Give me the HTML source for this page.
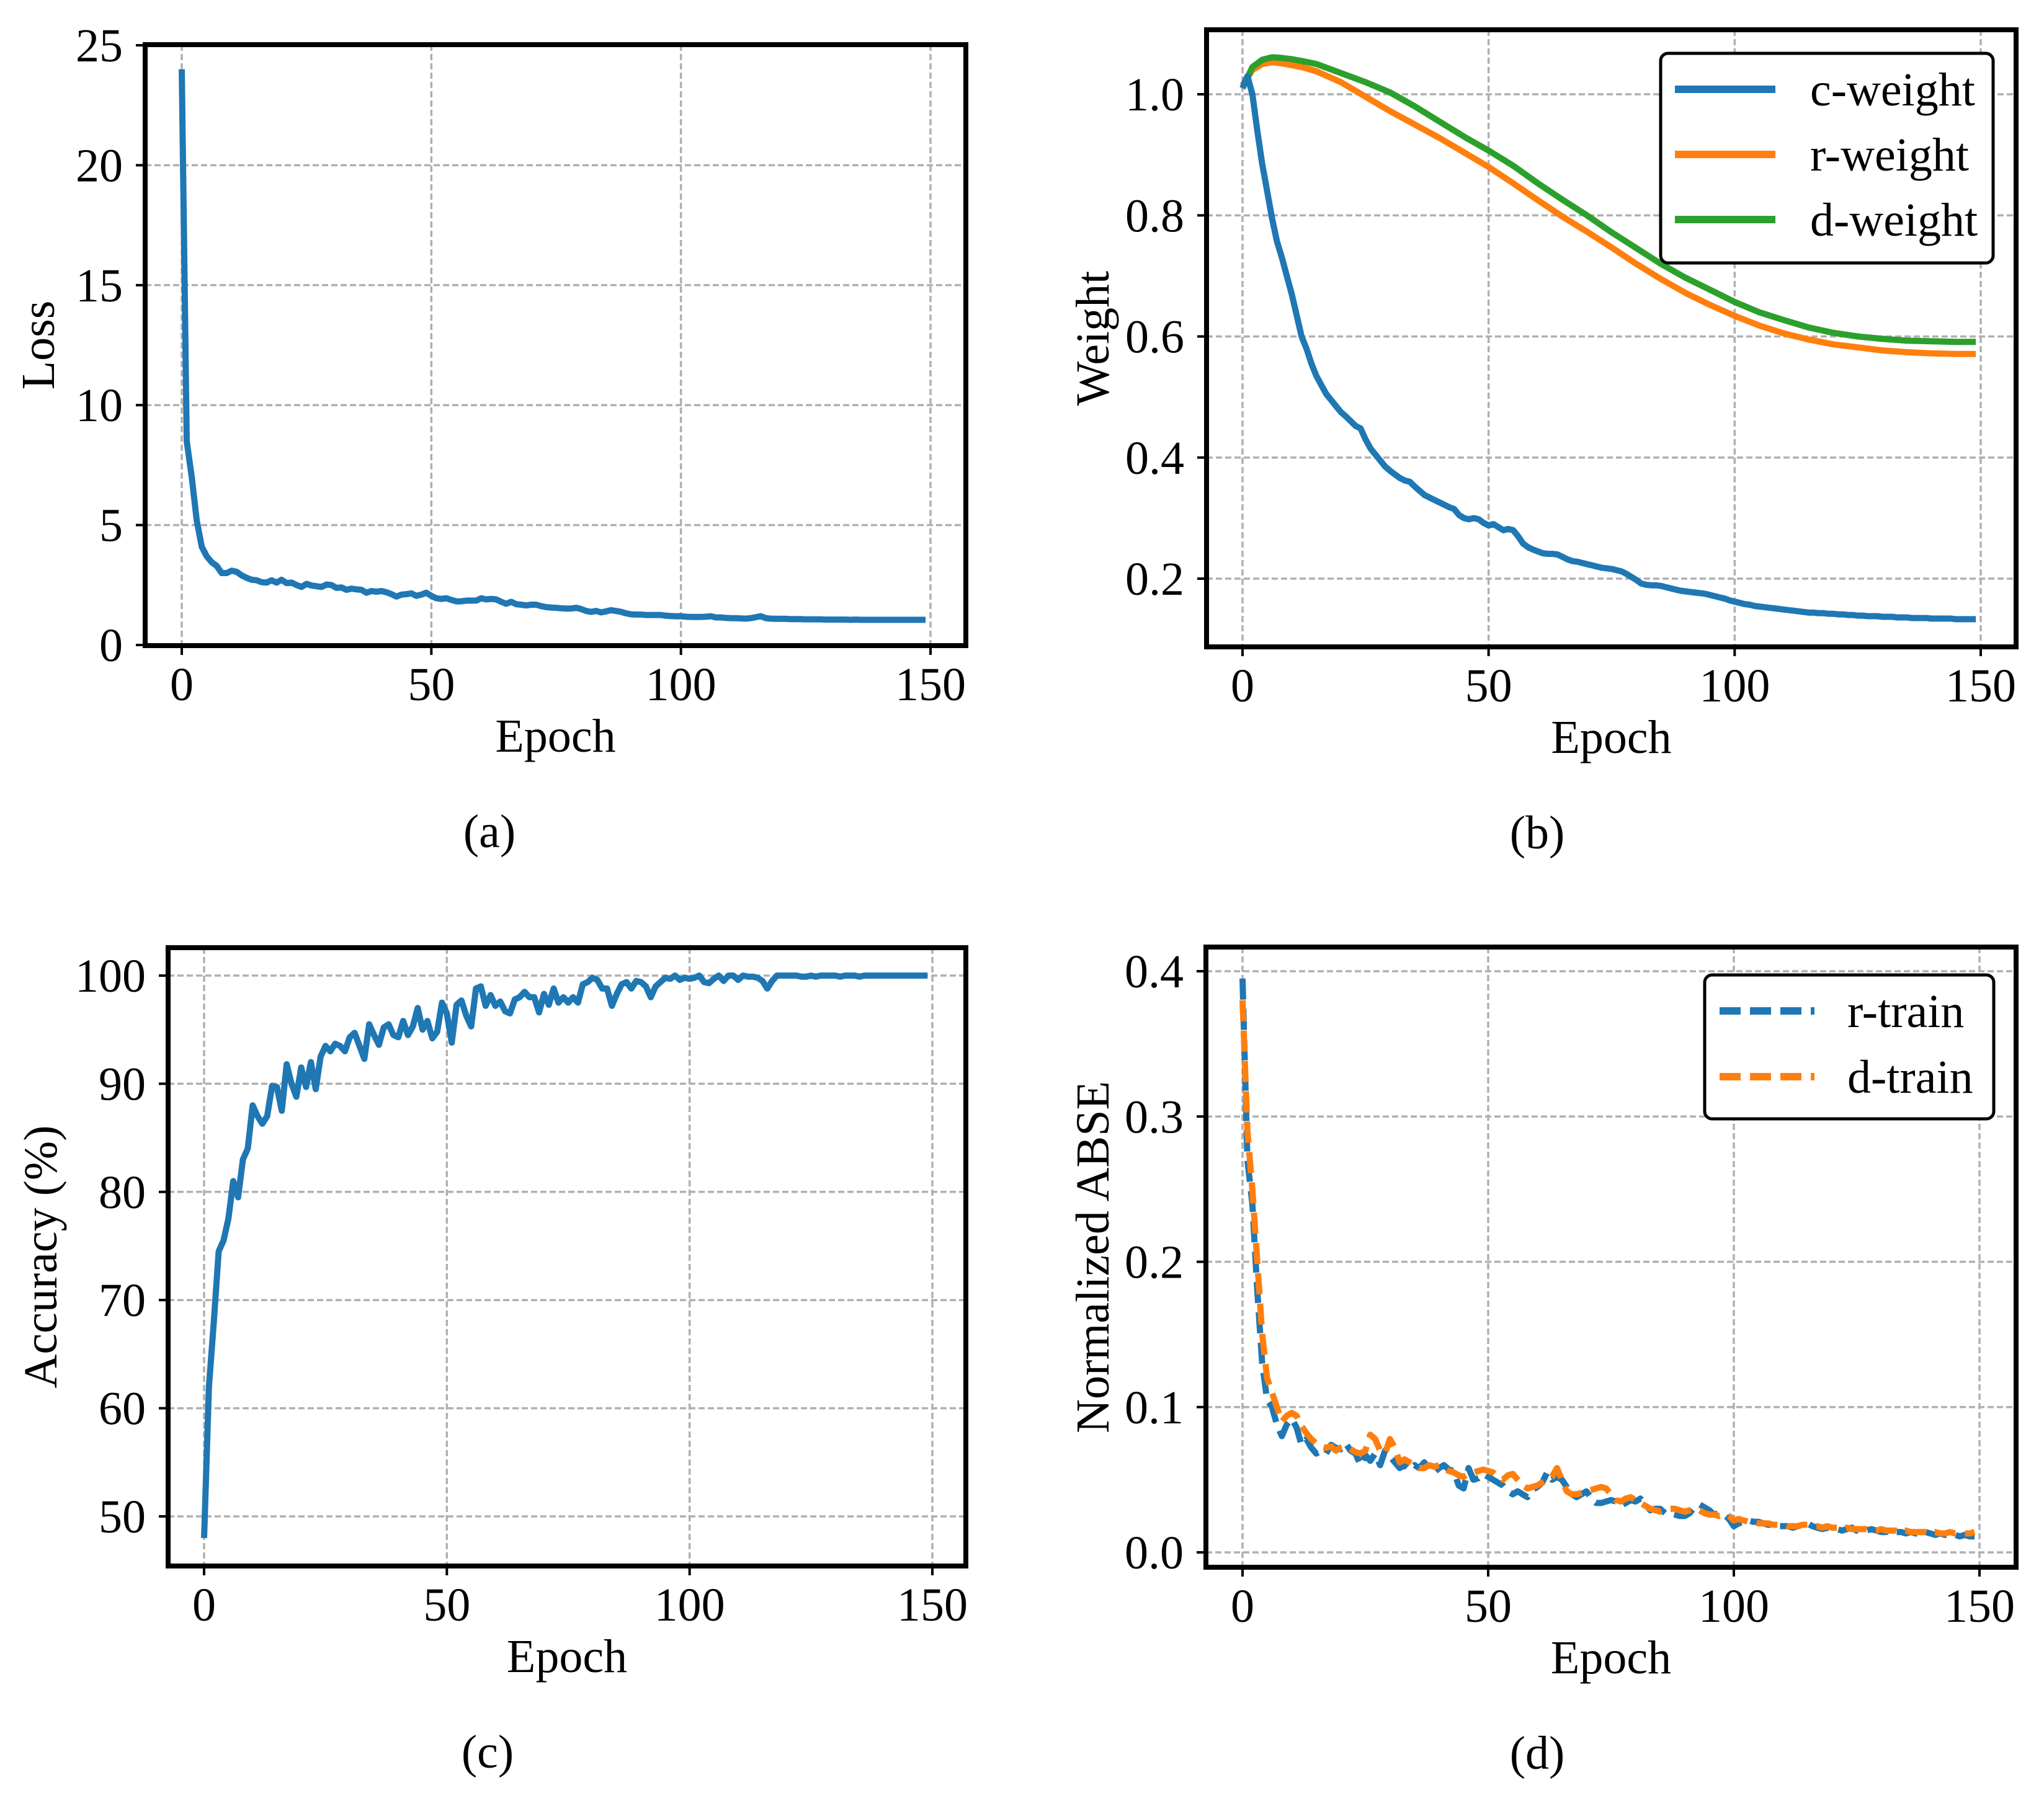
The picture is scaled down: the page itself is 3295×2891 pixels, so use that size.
<!DOCTYPE html>
<html><head><meta charset="utf-8"><title>Training curves</title>
<style>
html,body{margin:0;padding:0;background:#fff;}
svg{display:block;}
text{font-family:"Liberation Serif","Times New Roman",serif;fill:#000;}
</style></head>
<body>
<svg id="fig" xmlns="http://www.w3.org/2000/svg" width="3295" height="2891" viewBox="0 0 3295 2891"></svg>
<script>
// ---------- data ----------
const lossEpochs = [0,1,2,3,4,5,6,7,8,9,10,11,12,13,14,15,16,17,18,19,20,21,22,23,24,25,26,27,28,29,30,31,32,33,34,35,36,37,38,39,40,41,42,43,44,45,46,47,48,49,50,51,52,53,54,55,56,57,58,59,60,61,62,63,64,65,66,67,68,69,70,71,72,73,74,75,76,77,78,79,80,81,82,83,84,85,86,87,88,89,90,91,92,93,94,95,96,97,98,99,100,101,102,103,104,105,106,107,108,109,110,111,112,113,114,115,116,117,118,119,120,121,122,123,124,125,126,127,128,129,130,131,132,133,134,135,136,137,138,139,140,141,142,143,144,145,146,147,148,149];
const lossValues = [24,8.5,7.0,5.2,4.1,3.7,3.45,3.3,3.0,3.0,3.1,3.05,2.9,2.8,2.72,2.7,2.62,2.6,2.7,2.6,2.72,2.58,2.6,2.5,2.42,2.55,2.48,2.45,2.42,2.52,2.5,2.38,2.4,2.3,2.35,2.32,2.3,2.18,2.25,2.22,2.25,2.2,2.12,2.02,2.1,2.12,2.15,2.05,2.1,2.18,2.05,1.95,1.92,1.95,1.88,1.82,1.82,1.85,1.85,1.85,1.95,1.9,1.92,1.9,1.8,1.72,1.8,1.7,1.68,1.65,1.68,1.68,1.62,1.58,1.56,1.55,1.53,1.52,1.52,1.55,1.5,1.42,1.38,1.42,1.36,1.4,1.45,1.42,1.38,1.32,1.28,1.27,1.27,1.25,1.25,1.25,1.25,1.22,1.21,1.2,1.2,1.18,1.17,1.17,1.17,1.18,1.2,1.15,1.15,1.13,1.12,1.12,1.11,1.1,1.12,1.16,1.2,1.12,1.1,1.09,1.09,1.09,1.08,1.08,1.08,1.07,1.07,1.07,1.07,1.06,1.06,1.06,1.06,1.06,1.05,1.06,1.05,1.05,1.05,1.05,1.05,1.05,1.05,1.05,1.05,1.05,1.05,1.05,1.05,1.05];
const lossTicks = [0,5,10,15,20,25];

const weightEpochs = [0,1,2,3,4,5,6,7,8,9,10,11,12,13,14,15,16,17,18,19,20,21,22,23,24,25,26,27,28,29,30,31,32,33,34,35,36,37,38,39,40,41,42,43,44,45,46,47,48,49,50,51,52,53,54,55,56,57,58,59,60,61,62,63,64,65,66,67,68,69,70,71,72,73,74,75,76,77,78,79,80,81,82,83,84,85,86,87,88,89,90,91,92,93,94,95,96,97,98,99,100,101,102,103,104,105,106,107,108,109,110,111,112,113,114,115,116,117,118,119,120,121,122,123,124,125,126,127,128,129,130,131,132,133,134,135,136,137,138,139,140,141,142,143,144,145,146,147,148,149];
const cWeight = [1.01,1.03,1.0,0.94,0.885,0.84,0.795,0.757,0.73,0.70,0.67,0.635,0.60,0.58,0.555,0.535,0.52,0.505,0.495,0.485,0.475,0.468,0.46,0.452,0.448,0.43,0.415,0.405,0.395,0.385,0.378,0.372,0.366,0.362,0.36,0.352,0.345,0.338,0.334,0.33,0.326,0.322,0.318,0.315,0.305,0.3,0.298,0.3,0.298,0.292,0.288,0.29,0.285,0.28,0.282,0.28,0.27,0.258,0.252,0.248,0.245,0.242,0.241,0.241,0.24,0.236,0.232,0.229,0.228,0.226,0.224,0.222,0.22,0.218,0.217,0.216,0.214,0.212,0.208,0.203,0.198,0.192,0.19,0.189,0.189,0.188,0.186,0.184,0.182,0.18,0.179,0.178,0.177,0.176,0.175,0.173,0.171,0.169,0.167,0.164,0.162,0.16,0.158,0.157,0.155,0.154,0.153,0.152,0.151,0.15,0.149,0.148,0.147,0.146,0.145,0.144,0.144,0.143,0.143,0.142,0.142,0.141,0.141,0.14,0.14,0.139,0.139,0.138,0.138,0.138,0.137,0.137,0.137,0.136,0.136,0.136,0.135,0.135,0.135,0.135,0.134,0.134,0.134,0.134,0.134,0.133,0.133,0.133,0.133,0.133];
const smoothEpochs = [0,2,4,6,8,10,12,15,20,25,30,35,40,45,50,55,60,65,70,75,80,85,90,95,100,105,110,115,120,125,130,135,140,145,149];
const rWeight = [1.015,1.04,1.05,1.053,1.051,1.048,1.045,1.038,1.02,0.996,0.972,0.95,0.928,0.904,0.88,0.853,0.825,0.798,0.773,0.747,0.72,0.695,0.672,0.652,0.634,0.618,0.605,0.595,0.587,0.582,0.577,0.574,0.572,0.571,0.571];
const dWeight = [1.01,1.045,1.057,1.061,1.06,1.058,1.055,1.05,1.035,1.02,1.003,0.98,0.955,0.93,0.907,0.882,0.853,0.826,0.8,0.772,0.746,0.72,0.697,0.677,0.657,0.64,0.627,0.615,0.606,0.6,0.596,0.593,0.592,0.591,0.591];
const weightTicks = [0.2,0.4,0.6,0.8,1.0];

const accValues = [48,62,68,74.5,75.5,77.5,81,79.5,83,84,88,87,86.3,87,89.8,89.7,87.5,91.8,90,88.8,91.5,89.7,92,89.5,92.5,93.5,93,93.7,93.5,93,94.3,94.7,93.5,92.3,95.5,94.5,93.6,95.2,95.5,94.5,94.3,95.8,94.5,95.3,97,95,95.8,94.2,94.8,97.5,96.5,93.8,97.3,97.7,96.3,95.3,98.8,99,97.2,98.2,97.2,97.6,96.7,96.5,97.8,98,98.5,98,98,96.6,98.3,97.3,98.8,97.5,98,97.5,98,97.5,99.2,99.4,99.8,99.6,98.8,98.8,97.2,98.3,99.2,99.4,98.8,99.5,99.4,99,98,99,99.4,99.8,99.7,100,99.6,99.8,99.7,99.8,100,99.4,99.3,99.7,100,99.5,100,100,99.6,100,99.9,99.9,99.8,99.5,98.8,99.5,100,100,100,100,100,99.9,99.9,100,99.9,100,100,100,100,99.9,100,100,100,99.9,100,100,100,100,100,100,100,100,100,100,100,100,100,100,100,100];
const accTicks = [50,60,70,80,90,100];

const rTrain = [0.395,0.27,0.24,0.18,0.13,0.105,0.1,0.088,0.08,0.088,0.092,0.086,0.074,0.078,0.072,0.068,0.07,0.068,0.074,0.072,0.071,0.075,0.07,0.068,0.06,0.067,0.063,0.068,0.06,0.07,0.066,0.062,0.058,0.06,0.057,0.06,0.058,0.062,0.057,0.055,0.058,0.06,0.057,0.056,0.046,0.044,0.058,0.05,0.051,0.054,0.052,0.05,0.048,0.046,0.042,0.04,0.042,0.04,0.038,0.043,0.045,0.048,0.055,0.05,0.052,0.05,0.045,0.04,0.038,0.04,0.042,0.037,0.034,0.034,0.035,0.036,0.035,0.032,0.034,0.036,0.035,0.037,0.033,0.029,0.03,0.03,0.027,0.027,0.026,0.025,0.025,0.027,0.031,0.033,0.031,0.029,0.026,0.027,0.026,0.023,0.018,0.02,0.021,0.022,0.021,0.021,0.02,0.019,0.019,0.018,0.018,0.018,0.017,0.018,0.019,0.02,0.018,0.017,0.016,0.017,0.016,0.016,0.015,0.016,0.017,0.015,0.015,0.015,0.016,0.015,0.014,0.014,0.015,0.014,0.014,0.013,0.014,0.013,0.013,0.014,0.013,0.012,0.013,0.012,0.012,0.012,0.011,0.012,0.011,0.011];
const dTrain = [0.38,0.29,0.25,0.2,0.15,0.12,0.11,0.1,0.09,0.094,0.096,0.094,0.087,0.082,0.078,0.075,0.073,0.072,0.073,0.07,0.072,0.073,0.071,0.069,0.068,0.07,0.081,0.078,0.07,0.068,0.078,0.072,0.062,0.064,0.062,0.06,0.058,0.058,0.06,0.059,0.06,0.058,0.056,0.055,0.053,0.052,0.054,0.055,0.056,0.057,0.056,0.055,0.052,0.05,0.053,0.054,0.05,0.046,0.044,0.045,0.046,0.048,0.05,0.052,0.058,0.05,0.042,0.04,0.04,0.041,0.042,0.043,0.044,0.045,0.044,0.04,0.036,0.035,0.037,0.038,0.036,0.034,0.032,0.03,0.029,0.028,0.029,0.03,0.03,0.029,0.028,0.029,0.03,0.029,0.027,0.026,0.026,0.025,0.026,0.025,0.022,0.023,0.022,0.021,0.021,0.02,0.02,0.02,0.019,0.019,0.019,0.018,0.018,0.018,0.019,0.019,0.018,0.018,0.017,0.018,0.017,0.017,0.016,0.017,0.016,0.016,0.016,0.016,0.015,0.015,0.016,0.015,0.015,0.015,0.014,0.015,0.014,0.014,0.014,0.014,0.013,0.014,0.013,0.013,0.014,0.013,0.013,0.013,0.013,0.014];
const abseTicks = [0.0,0.1,0.2,0.3,0.4];
const xTicks = [0,50,100,150];

// ---------- drawing ----------
const NS = 'http://www.w3.org/2000/svg';
const svg = document.getElementById('fig');
const FS = 76;
function mk(tag, attrs, parent){
  const e = document.createElementNS(NS, tag);
  for (const k in attrs) e.setAttribute(k, attrs[k]);
  (parent||svg).appendChild(e);
  return e;
}
function fmt(v, dec){ return dec ? v.toFixed(dec) : String(v); }

function makeAxes(p){
  const g = mk('g', {});
  
  
  p.x = v => p.x0 + (v - 0) * (p.x150 - p.x0) / 150;
  p.y = v => p.ya + (v - p.va) * (p.yb - p.ya) / (p.vb - p.va);
  const clipId = 'clip-' + p.name;
  const cp = mk('clipPath', {id: clipId}, g);
  mk('rect', {x:p.L, y:p.T, width:p.R-p.L, height:p.B-p.T}, cp);
  const grid = mk('g', {stroke:'#b0b0b0','stroke-width':3.5,'stroke-dasharray':'10 5'}, g);
  
  
  for (const t of xTicks){ mk('line',{x1:p.x(t),x2:p.x(t),y1:p.T,y2:p.B},grid); }
  for (const t of p.yTicks){ mk('line',{x1:p.L,x2:p.R,y1:p.y(t),y2:p.y(t)},grid); }
  const tg = mk('g', {}, g);
  
  
  for (const t of xTicks){
    const X = p.x(t);
    mk('line',{x1:X,x2:X,y1:p.B,y2:p.B+15,stroke:'#000','stroke-width':4},tg);
    const tx = mk('text',{x:X,y:p.B+88,'text-anchor':'middle','font-size':FS},tg);
    tx.textContent = String(t);
  }
  const yg = mk('g', {}, g);
  
  
  for (const t of p.yTicks){
    const Y = p.y(t);
    mk('line',{x1:p.L-15,x2:p.L,y1:Y,y2:Y,stroke:'#000','stroke-width':4},yg);
    const tx = mk('text',{x:p.L-36,y:Y+26,'text-anchor':'end','font-size':FS},yg);
    tx.textContent = fmt(t, p.dec);
  }
  const xl = mk('text',{x:(p.L+p.R)/2,y:p.B+171,'text-anchor':'middle','font-size':FS},g);
  
  
  xl.textContent = 'Epoch';
  const ycx = p.ylx, ycy = (p.T+p.B)/2;
  const yl = mk('text',{x:ycx,y:ycy,'text-anchor':'middle','dominant-baseline':'central','font-size':FS,transform:`rotate(-90 ${ycx} ${ycy})`},g);
  
  
  yl.textContent = p.ylabel;
  const cap = mk('text',{x:p.capX,y:p.B+325,'text-anchor':'middle','font-size':FS},g);
  
  
  cap.textContent = p.caption;
  p.g = g; p.clip = clipId;
  return p;
}
function series(p, xs, ys, color, name, dash){
  const pts = xs.map((e,i)=> p.x(e).toFixed(1)+','+p.y(ys[i]).toFixed(1)).join(' ');
  const attrs = {points:pts,fill:'none',stroke:color,'stroke-width':10,'stroke-linejoin':'round','clip-path':`url(#${p.clip})`};
  if (dash) attrs['stroke-dasharray'] = dash;
  const pl = mk('polyline', attrs, p.g);
  
  
}
function frame(p){
  const f = mk('rect',{x:p.L,y:p.T,width:p.R-p.L,height:p.B-p.T,fill:'none',stroke:'#000','stroke-width':8}, p.g);
  
  
}
function legend(p, box, entries){
  const lg = mk('g', {}, p.g);
  
  
  mk('rect',{x:box.x,y:box.y,width:box.w,height:box.h,rx:12,ry:12,fill:'#fff',stroke:'#000','stroke-width':5},lg);
  entries.forEach((en,i)=>{
    const ey = box.e0 + i*box.de;
    const it = mk('g',{},lg);
    
    
    const a = {x1:box.lx1,x2:box.lx2,y1:ey,y2:ey,stroke:en.color,'stroke-width':12};
    if (en.dash) a['stroke-dasharray'] = en.dash;
    mk('line',a,it);
    const t = mk('text',{x:box.tx,y:ey+26,'font-size':FS},it);
    t.textContent = en.label;
  });
}

const BLUE='#1f77b4', ORANGE='#ff7f0e', GREEN='#2ca02c';

const pa = makeAxes({name:'loss-panel',L:234,R:1557,T:72,B:1041,x0:293,x150:1500,va:0,ya:1040,vb:25,yb:73,yTicks:lossTicks,dec:0,ylabel:'Loss',ylx:62,caption:'(a)',capX:789});
series(pa, lossEpochs, lossValues, BLUE, 'loss-line');
frame(pa);

const pb = makeAxes({name:'weight-panel',L:1945,R:3250,T:48,B:1043,x0:2003,x150:3193,va:0.2,ya:933,vb:1.0,yb:152,yTicks:weightTicks,dec:1,ylabel:'Weight',ylx:1762,caption:'(b)',capX:2478});
series(pb, smoothEpochs, rWeight, ORANGE, 'r-weight-line');
series(pb, smoothEpochs, dWeight, GREEN, 'd-weight-line');
series(pb, weightEpochs, cWeight, BLUE, 'c-weight-line');
frame(pb);
legend(pb, {x:2677,y:86,w:536,h:338,e0:144,de:105,lx1:2700,lx2:2862,tx:2918},
  [{label:'c-weight',color:BLUE},{label:'r-weight',color:ORANGE},{label:'d-weight',color:GREEN}]);

const pc = makeAxes({name:'accuracy-panel',L:271,R:1557,T:1528,B:2525,x0:329,x150:1503,va:50,ya:2445,vb:100,yb:1573,yTicks:accTicks,dec:0,ylabel:'Accuracy (%)',ylx:66,caption:'(c)',capX:786});
series(pc, lossEpochs, accValues, BLUE, 'accuracy-line');
frame(pc);

const pd = makeAxes({name:'abse-panel',L:1944,R:3250,T:1527,B:2527,x0:2003,x150:3191,va:0,ya:2503,vb:0.4,yb:1566,yTicks:abseTicks,dec:1,ylabel:'Normalized ABSE',ylx:1762,caption:'(d)',capX:2478});
series(pd, lossEpochs, rTrain, BLUE, 'r-train-line', '34 15');
series(pd, lossEpochs, dTrain, ORANGE, 'd-train-line', '34 15');
frame(pd);
legend(pd, {x:2748,y:1572,w:466,h:232,e0:1630,de:106,lx1:2772,lx2:2925,tx:2978},
  [{label:'r-train',color:BLUE,dash:'34 15'},{label:'d-train',color:ORANGE,dash:'34 15'}]);
</script>
</body></html>
